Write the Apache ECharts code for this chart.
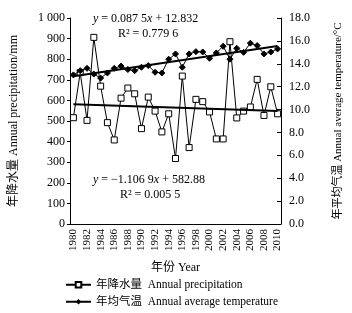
<!DOCTYPE html>
<html>
<head>
<meta charset="utf-8">
<script src="https://cdn.jsdelivr.net/npm/echarts@6/dist/echarts.min.js"></script>
<style>
  html, body { margin: 0; padding: 0; background: #fff; }
  #chart { width: 352px; height: 313px; }
</style>
</head>
<body>
<div id="chart"></div>
<script>
// years 1980..2010
const years = [];
for (let y = 1980; y <= 2010; y++) years.push(String(y));

// annual precipitation (mm)
const precip = [516, 735, 503, 906, 669, 492, 408, 611, 660, 632,
  463, 616, 548, 447, 535, 318, 718, 371, 605, 594,
  544, 413, 413, 885, 515, 548, 568, 702, 527, 666, 535];

// annual average temperature (°C)
const temp = [13.03, 13.4, 13.6, 13.1, 12.75, 13.2, 13.6, 13.8, 13.5, 13.4,
  13.7, 13.84, 13.26, 13.2, 14.4, 14.86, 13.7, 14.86, 15.06, 15.03,
  14.48, 14.95, 15.53, 14.4, 15.35, 15.0, 15.8, 15.59, 14.86, 15.03, 15.3];

// trend line end points (1980, 2010)
const precipTrend = [581.8, 548.6];
const tempTrend = [12.92, 15.55];

const precipName = '年降水量  Annual precipitation';
const tempName = '年均气温  Annual average temperature';

const SERIF = '"Liberation Serif", "Noto Sans CJK SC", serif';
const legendBase = {
  left: 60,
  itemWidth: 25,
  itemHeight: 7,
  textStyle: { fontFamily: SERIF, fontSize: 11.5, color: '#000' }
};
const eqRich = { i: { fontStyle: 'italic', fontFamily: SERIF, fontSize: 12 } };

const chart = echarts.init(document.getElementById('chart'));

chart.setOption({
  animation: false,
  textStyle: { fontFamily: SERIF, color: '#000' },
  grid: { left: 63, right: 67, top: 18, bottom: 89 },
  legend: [
    Object.assign({ top: 274, data: [precipName] }, legendBase),
    Object.assign({ top: 291, data: [tempName] }, legendBase)
  ],
  xAxis: {
    type: 'category',
    data: years,
    boundaryGap: true,
    name: '年份 Year',
    nameLocation: 'middle',
    nameGap: 38,
    nameTextStyle: { fontFamily: SERIF, fontSize: 12, color: '#000' },
    axisLine: { lineStyle: { color: '#000', width: 1 } },
    axisTick: { inside: true, length: 3, interval: 0, lineStyle: { color: '#000' } },
    axisLabel: { rotate: 90, interval: 1, fontSize: 11, color: '#000', fontFamily: SERIF, margin: 5 },
    splitLine: { show: false }
  },
  yAxis: [
    {
      type: 'value',
      min: 0, max: 1000, interval: 100,
      name: '年降水量 Annual precipitation/mm',
      nameLocation: 'middle',
      nameGap: 50,
      nameRotate: 90,
      nameTextStyle: { fontFamily: SERIF, fontSize: 12, color: '#000' },
      axisLine: { show: true, lineStyle: { color: '#000' } },
      axisTick: { show: true, length: 3, lineStyle: { color: '#000' } },
      axisLabel: {
        fontSize: 12, color: '#000', fontFamily: SERIF, margin: 5,
        formatter: v => v === 1000 ? '1 000' : String(v)
      },
      splitLine: { show: false }
    },
    {
      type: 'value',
      min: 0, max: 18, interval: 2,
      name: '年平均气温 Annual average temperature/°C',
      nameLocation: 'middle',
      nameGap: 52,
      nameRotate: 90,
      nameTextStyle: { fontFamily: SERIF, fontSize: 11, color: '#000' },
      axisLine: { show: true, lineStyle: { color: '#000' } },
      axisTick: { show: true, inside: true, length: 4, lineStyle: { color: '#000' } },
      axisLabel: {
        fontSize: 12, color: '#000', fontFamily: SERIF, margin: 8,
        formatter: v => v.toFixed(1)
      },
      splitLine: { show: false }
    }
  ],
  series: [
    {
      name: precipName,
      type: 'line',
      yAxisIndex: 0,
      data: precip,
      symbol: 'rect',
      symbolSize: 6,
      showAllSymbol: true,
      lineStyle: { color: '#000', width: 1 },
      itemStyle: { color: '#fff', borderColor: '#000', borderWidth: 1 },
      z: 3
    },
    {
      name: tempName,
      type: 'line',
      yAxisIndex: 1,
      data: temp,
      symbol: 'diamond',
      symbolSize: 6,
      showAllSymbol: true,
      lineStyle: { color: '#000', width: 1 },
      itemStyle: { color: '#000', borderColor: '#000' },
      z: 4
    },
    {
      name: 'precipTrend',
      type: 'line',
      yAxisIndex: 0,
      data: [[years[0], precipTrend[0]], [years[years.length - 1], precipTrend[1]]],
      symbol: 'none',
      lineStyle: { color: '#000', width: 2 },
      z: 5
    },
    {
      name: 'tempTrend',
      type: 'line',
      yAxisIndex: 1,
      data: [[years[0], tempTrend[0]], [years[years.length - 1], tempTrend[1]]],
      symbol: 'none',
      lineStyle: { color: '#000', width: 2 },
      z: 5
    }
  ],
  graphic: [
    { type: 'text', left: 93, top: 13, style: { text: '{i|y} = 0.087 5{i|x} + 12.832', rich: eqRich, font: '12px "Liberation Serif"', fill: '#000' } },
    { type: 'text', left: 118, top: 28, style: { text: 'R² = 0.779 6', font: '12px "Liberation Serif"', fill: '#000' } },
    { type: 'text', left: 93, top: 174, style: { text: '{i|y} = −1.106 9{i|x} + 582.88', rich: eqRich, font: '12px "Liberation Serif"', fill: '#000' } },
    { type: 'text', left: 120, top: 189, style: { text: 'R² = 0.005 5', font: '12px "Liberation Serif"', fill: '#000' } }
  ]
});
</script>
</body>
</html>
